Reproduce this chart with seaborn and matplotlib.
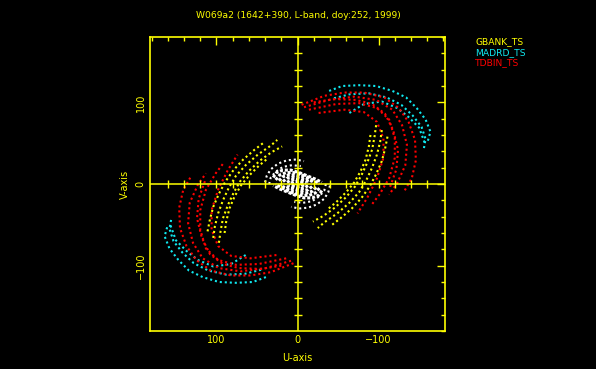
import matplotlib
matplotlib.use('Agg')
import matplotlib.pyplot as plt
import seaborn as sns
import numpy as np
import pandas as pd

# UV tracks (one half only, the other half is (-u, -v))
# units are kilo-lambda, U axis increases to the left
gbank_tracks = [
  [(-104, 66), (-102, 52), (-98, 36), (-92, 20), (-85, 5), (-76, -10),
   (-64, -23), (-49, -36), (-33, -47), (-25, -54)],
  [(-111, 58), (-108, 43), (-104, 28), (-97, 12), (-89, -3), (-79, -17),
   (-67, -30), (-53, -42), (-40, -52)],
  [(-97, 72), (-95, 58), (-92, 42), (-86, 26), (-79, 11), (-71, -3),
   (-60, -16), (-46, -29), (-32, -39), (-19, -46)],
  [(-90, 60), (-88, 46), (-84, 30), (-78, 16), (-70, 2), (-60, -10),
   (-48, -22), (-36, -32)],
]
madrd_tracks = [
  [(-39, 114), (-55, 120), (-76, 121), (-97, 120), (-117, 114), (-134, 106),
   (-147, 93), (-158, 79), (-164, 64), (-160, 50)],
  [(-45, 105), (-65, 110), (-88, 111), (-110, 106), (-128, 97), (-142, 84),
   (-153, 70), (-158, 55), (-156, 44)],
  [(-64, 87), (-82, 98), (-104, 101), (-123, 93), (-137, 82), (-150, 69),
   (-157, 50)],
]
tdbin_tracks = [
  [(-5, 97), (-33, 108), (-58, 112), (-82, 112), (-107, 106), (-125, 93),
   (-137, 76), (-145, 54), (-146, 29), (-141, 7), (-131, -10)],
  [(-8, 94), (-39, 103), (-70, 107), (-97, 103), (-117, 91), (-129, 72),
   (-135, 48), (-133, 23), (-123, 1), (-113, -13)],
  [(-14, 91), (-48, 98), (-76, 99), (-98, 93), (-113, 79), (-120, 56),
   (-120, 32), (-113, 7), (-101, -13), (-91, -26)],
  [(-26, 87), (-58, 91), (-82, 88), (-98, 76), (-106, 56), (-106, 32),
   (-98, 7), (-86, -17), (-74, -36)],
  [(-20, 100), (-45, 104), (-72, 103), (-92, 98), (-108, 86), (-118, 66),
   (-124, 42), (-122, 18), (-114, -4)],
]
# short baselines: outer rings, then the dense core
short_tracks = [
  [(40, 2), (38, 10), (33, 18), (24, 25), (13, 29), (2, 30), (-8, 28)],
  [(35, 0), (33, 8), (27, 15), (18, 21), (7, 23), (-4, 22)],
]
core_tracks = [
  [(30, 8), (26, 14), (18, 17), (8, 17), (-2, 14), (-12, 10), (-22, 6), (-30, 2)],
  [(27, 5), (22, 11), (14, 14), (5, 14), (-4, 12), (-13, 8), (-21, 4), (-27, 0)],
  [(23, 4), (18, 9), (10, 11), (2, 11), (-7, 9), (-15, 5), (-22, 1)],
  [(18, 3), (13, 7), (6, 8), (-2, 7), (-9, 5), (-16, 2)],
  [(13, 2), (8, 5), (2, 6), (-5, 4), (-11, 1)],
  [(8, 1), (4, 3), (-2, 3), (-7, 1)],
]

station_names = ['GBANK_TS', 'MADRD_TS', 'TDBIN_TS']
station_colors = ['#ffff00', '#10e8f0', '#ff0000']

title = 'W069a2 (1642+390, L-band, doy:252, 1999)'

# build a long table: every track plus its conjugate
rows = []
tid = 0
for name, tracks in [('short', short_tracks), ('core', core_tracks),
                     ('MADRD_TS', madrd_tracks), ('TDBIN_TS', tdbin_tracks),
                     ('GBANK_TS', gbank_tracks)]:
  for tr in tracks:
    for sign in (1, -1):
      for u, v in tr:
        rows.append({'u': sign * u, 'v': sign * v, 'track': tid, 'station': name})
      tid += 1
df = pd.DataFrame(rows)

sns.set_style('dark')
plt.rcParams['font.family'] = ['DejaVu Sans']
yel = '#ffff00'

fig = plt.figure(figsize=(5.96, 3.69), dpi=100, facecolor='black')
ax = fig.add_axes([0.2517, 0.103, 0.495, 0.7967])
ax.set_facecolor('black')

pal = {'short': 'white', 'core': 'white', 'GBANK_TS': station_colors[0],
       'MADRD_TS': station_colors[1], 'TDBIN_TS': station_colors[2]}
for name in ['short', 'core', 'MADRD_TS', 'TDBIN_TS', 'GBANK_TS']:
  sub = df[df['station'] == name]
  if name == 'core':
    lw, ls = 2.2, (0, (1, 0.6))
  else:
    lw, ls = 1.5, (0, (1, 1.4))
  sns.lineplot(data=sub, x='u', y='v', units='track', estimator=None,
               sort=False, color=pal[name], lw=lw, linestyle=ls,
               legend=False, ax=ax)

ax.set_xlim(182, -182)
ax.set_ylim(-180, 180)

# zero lines with their own small ticks
ax.axhline(0, color=yel, lw=1.1, zorder=5)
ax.axvline(0, color=yel, lw=1.1, zorder=5)
tk = np.arange(-160, 161, 20)
ax.plot(tk, np.zeros_like(tk), ls='none', marker='|', ms=6, mew=1, color=yel, zorder=5)
ax.plot(np.zeros_like(tk), tk, ls='none', marker='_', ms=6, mew=1, color=yel, zorder=5)

ax.set_xticks([100, 0, -100])
ax.set_yticks([-100, 0, 100])
ax.set_xticks(np.arange(-180, 181, 20), minor=True)
ax.set_yticks(np.arange(-180, 181, 20), minor=True)
ax.tick_params(which='both', direction='in', top=True, right=True,
               color=yel, labelcolor=yel, labelsize=7, width=1)
ax.tick_params(which='major', length=6, pad=3)
ax.tick_params(which='minor', length=3)
for lab in ax.get_yticklabels():
  lab.set_rotation(90)
  lab.set_va('center')
for s in ax.spines.values():
  s.set_color(yel)
  s.set_linewidth(1.2)
ax.grid(False)

ax.set_xlabel('U-axis', color=yel, fontsize=7, labelpad=6)
ax.set_ylabel('V-axis', color=yel, fontsize=7, labelpad=4)

fig.text(0.5, 0.957, title, color=yel, fontsize=6.6, ha='center', va='center')
for i, (nm, c) in enumerate(zip(station_names, station_colors)):
  fig.text(0.797, 0.886 - i * 0.0285, nm, color=c, fontsize=6.6, ha='left', va='center')

fig.savefig('out.png', dpi=100, facecolor='black')
